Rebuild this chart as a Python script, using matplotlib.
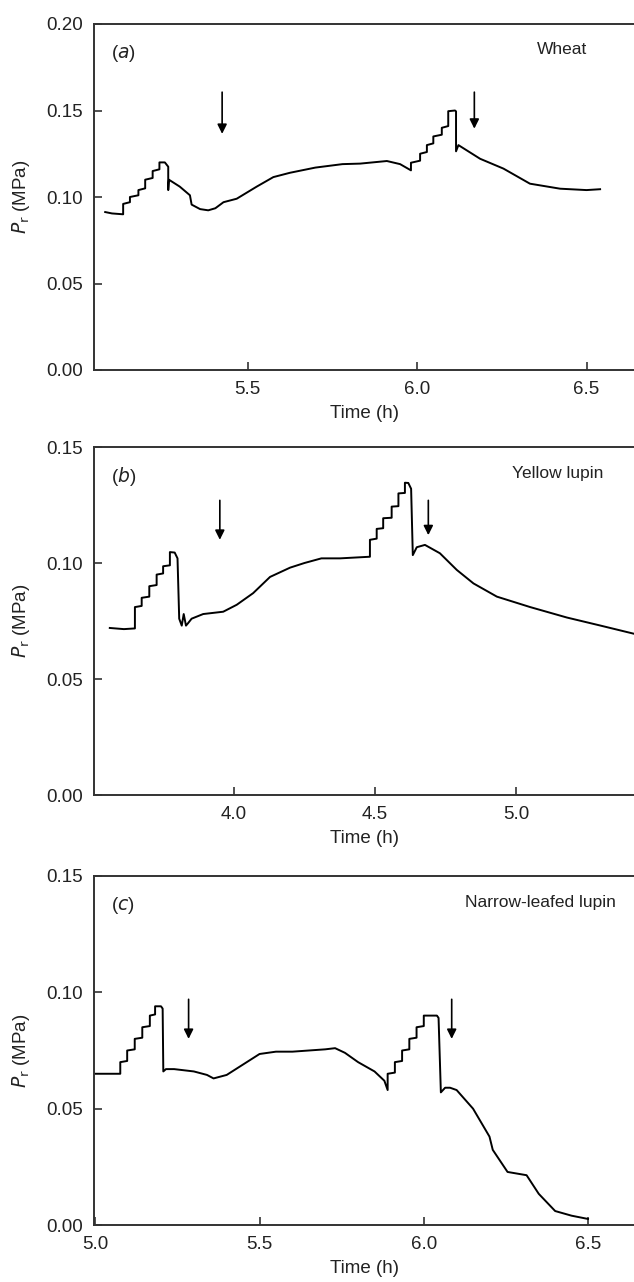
import matplotlib
matplotlib.use('Agg')
import matplotlib.pyplot as plt

plt.rcParams['font.family'] = ['Liberation Sans', 'DejaVu Sans']
plt.rcParams['font.size'] = 13.5

# (a) Wheat
time_a = [5.080, 5.100, 5.133, 5.133, 5.153, 5.153, 5.178, 5.178, 5.198, 5.198,
          5.220, 5.220, 5.240, 5.240, 5.256, 5.262, 5.266, 5.266, 5.268, 5.300,
          5.330, 5.335, 5.360, 5.384, 5.405, 5.429, 5.468, 5.527, 5.576, 5.625,
          5.700, 5.780, 5.832, 5.911, 5.950, 5.982, 5.982, 6.009, 6.009, 6.029,
          6.029, 6.048, 6.048, 6.073, 6.073, 6.092, 6.092, 6.112, 6.115, 6.115,
          6.122, 6.186, 6.255, 6.333, 6.422, 6.500, 6.540]
pr_a = [0.0913, 0.0905, 0.0900, 0.0960, 0.0970, 0.1000, 0.1010, 0.1040, 0.1050, 0.1100,
        0.1110, 0.1150, 0.1160, 0.1200, 0.1200, 0.1185, 0.1175, 0.1040, 0.1100, 0.1060,
        0.1010, 0.0956, 0.0930, 0.0923, 0.0935, 0.0970, 0.0990, 0.1060, 0.1115, 0.1140,
        0.1170, 0.1190, 0.1193, 0.1208, 0.1190, 0.1154, 0.1198, 0.1210, 0.1250, 0.1260,
        0.1300, 0.1310, 0.1350, 0.1360, 0.1400, 0.1410, 0.1496, 0.1500, 0.1495, 0.1264,
        0.1300, 0.1221, 0.1164, 0.1077, 0.1048, 0.1040, 0.1045]
arrows_a = [(5.425, 0.1606, 0.1365), (6.169, 0.1606, 0.1395)]

# (b) Yellow lupin
time_b = [3.560, 3.610, 3.649, 3.649, 3.673, 3.673, 3.700, 3.700, 3.726, 3.726,
          3.749, 3.749, 3.773, 3.773, 3.790, 3.800, 3.806, 3.815, 3.822, 3.830,
          3.837, 3.850, 3.891, 3.962, 4.010, 4.068, 4.128, 4.199, 4.250, 4.310,
          4.376, 4.482, 4.482, 4.506, 4.506, 4.529, 4.529, 4.559, 4.559, 4.583,
          4.583, 4.606, 4.606, 4.618, 4.628, 4.634, 4.648, 4.677, 4.730, 4.790,
          4.849, 4.932, 5.050, 5.180, 5.300, 5.418]
pr_b = [0.0720, 0.0715, 0.0718, 0.0810, 0.0815, 0.0850, 0.0855, 0.0900, 0.0905, 0.0950,
        0.0955, 0.0986, 0.0990, 0.1047, 0.1045, 0.1020, 0.0760, 0.0730, 0.0780, 0.0730,
        0.0740, 0.0760, 0.0780, 0.0790, 0.0820, 0.0870, 0.0940, 0.0980, 0.1000, 0.1020,
        0.1020, 0.1027, 0.1100, 0.1105, 0.1147, 0.1150, 0.1193, 0.1195, 0.1243, 0.1245,
        0.1300, 0.1302, 0.1346, 0.1345, 0.1320, 0.1034, 0.1068, 0.1078, 0.1042, 0.0970,
        0.0912, 0.0855, 0.0810, 0.0765, 0.0730, 0.0695]
arrows_b = [(3.950, 0.127, 0.110), (4.689, 0.127, 0.112)]

# (c) Narrow-leafed lupin
time_c = [5.000, 5.076, 5.076, 5.097, 5.097, 5.120, 5.120, 5.143, 5.143, 5.166,
          5.166, 5.182, 5.182, 5.200, 5.205, 5.207, 5.215, 5.240, 5.300, 5.340,
          5.360, 5.400, 5.450, 5.500, 5.550, 5.600, 5.650, 5.700, 5.730, 5.760,
          5.800, 5.850, 5.880, 5.890, 5.890, 5.912, 5.912, 5.934, 5.934, 5.956,
          5.956, 5.978, 5.978, 6.000, 6.000, 6.040, 6.045, 6.052, 6.065, 6.080,
          6.100, 6.150, 6.200, 6.210, 6.255, 6.313, 6.350, 6.400, 6.450, 6.500]
pr_c = [0.0650, 0.0650, 0.0700, 0.0705, 0.0750, 0.0755, 0.0800, 0.0805, 0.0850, 0.0855,
        0.0900, 0.0905, 0.0940, 0.0940, 0.0930, 0.0660, 0.0670, 0.0670, 0.0660, 0.0645,
        0.0630, 0.0645, 0.0690, 0.0735, 0.0745, 0.0745, 0.0750, 0.0755, 0.0760, 0.0740,
        0.0700, 0.0660, 0.0620, 0.0580, 0.0650, 0.0655, 0.0700, 0.0705, 0.0750, 0.0755,
        0.0800, 0.0805, 0.0850, 0.0855, 0.0900, 0.0900, 0.0890, 0.0570, 0.0590, 0.0590,
        0.0580, 0.0500, 0.0380, 0.0323, 0.0228, 0.0214, 0.0134, 0.0060, 0.0040, 0.0026]
arrows_c = [(5.284, 0.097, 0.080), (6.085, 0.097, 0.080)]

fig = plt.figure(figsize=(6.34, 12.82), dpi=100)

# data, arrows, xlim, ymax, xticks, yticks, letter, name, name left px, top px, bottom px
specs = [
    (time_a, pr_a, arrows_a, (5.047, 6.640), 0.20, [5.5, 6.0, 6.5],
     [0.00, 0.05, 0.10, 0.15, 0.20], 'a', 'Wheat', 537, 24, 370),
    (time_b, pr_b, arrows_b, (3.504, 5.418), 0.15, [4.0, 4.5, 5.0],
     [0.00, 0.05, 0.10, 0.15], 'b', 'Yellow lupin', 512, 447, 795),
    (time_c, pr_c, arrows_c, (4.996, 6.640), 0.15, [5.0, 5.5, 6.0, 6.5],
     [0.00, 0.05, 0.10, 0.15], 'c', 'Narrow-leafed lupin', 465, 876, 1225),
]

axis_col = '#333333'
txt_col = '#222222'
for t, p, arrows, xlim, ytop, xt, yt, letter, name, name_px, top_px, bot_px in specs:
    ax = fig.add_axes([94 / 634, 1 - bot_px / 1282, 540 / 634, (bot_px - top_px) / 1282])
    ax.plot(t, p, color='black', lw=1.4)
    for x, y0, y1 in arrows:
        ax.annotate('', xy=(x, y1), xytext=(x, y0),
                    arrowprops=dict(arrowstyle='-|>', color='black', lw=1.2,
                                    mutation_scale=14, shrinkA=0, shrinkB=0))
    ax.set_xlim(*xlim)
    ax.set_ylim(0, ytop)
    ax.set_xticks(xt)
    ax.set_yticks(yt)
    ax.set_xticklabels([f'{v:.1f}' for v in xt])
    ax.set_yticklabels([f'{v:.2f}' for v in yt])
    ax.tick_params(direction='in', length=6, width=1.2, color=axis_col,
                   labelcolor=txt_col, pad=8)
    for s in ['left', 'bottom', 'top']:
        ax.spines[s].set_color(axis_col)
        ax.spines[s].set_linewidth(1.4)
    ax.spines['right'].set_visible(False)
    ax.set_xlabel('Time (h)', color=txt_col, labelpad=5)
    ax.set_ylabel(r'$\mathit{P}_{\mathrm{r}}$ (MPa)', color=txt_col, labelpad=10)
    ax.text(0.031, 0.915, r'($\mathit{' + letter + r'}$)', transform=ax.transAxes,
            va='center', ha='left', color=txt_col)
    ax.text((name_px - 94) / 540, 0.925, name, transform=ax.transAxes,
            va='center', ha='left', fontsize=12.5, color=txt_col)

fig.savefig('out.png', dpi=100)
